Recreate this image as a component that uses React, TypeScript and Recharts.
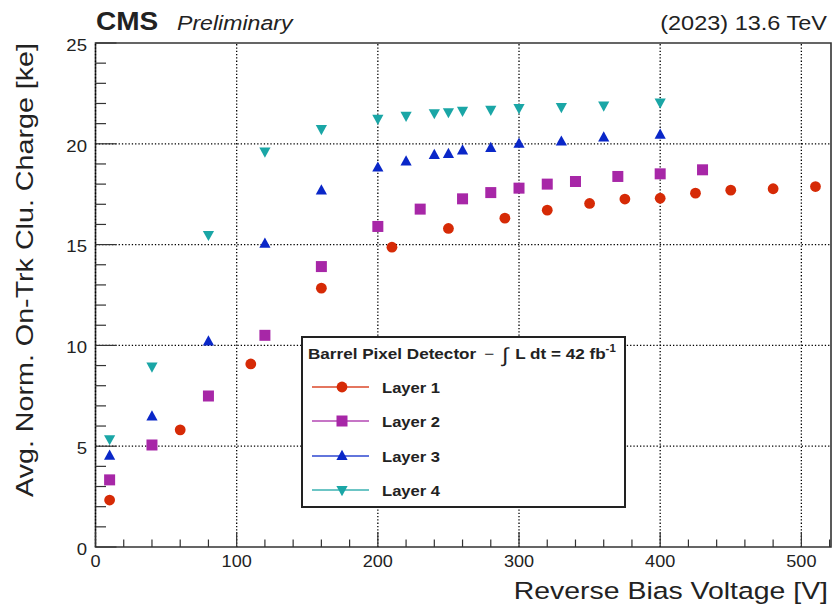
import React from 'react';
import {
  ScatterChart, Scatter, XAxis, YAxis, ReferenceLine, ReferenceArea, Legend, Customized, Label,
} from 'recharts';

// ---- data ----
const VOLTAGE_L1 = [10, 60, 110, 160, 210, 250, 290, 320, 350, 375, 400, 425, 450, 480, 510];
const CHARGE_L1 = [2.33, 5.81, 9.08, 12.84, 14.87, 15.8, 16.31, 16.71, 17.04, 17.26, 17.3, 17.55, 17.7, 17.77, 17.88];

const VOLTAGE_L2 = [10, 40, 80, 120, 160, 200, 230, 260, 280, 300, 320, 340, 370, 400, 430];
const CHARGE_L2 = [3.33, 5.06, 7.49, 10.5, 13.91, 15.9, 16.76, 17.27, 17.58, 17.8, 18.0, 18.13, 18.38, 18.51, 18.71];

const VOLTAGE_L3 = [10, 40, 80, 120, 160, 200, 220, 240, 250, 260, 280, 300, 330, 360, 400];
const CHARGE_L3 = [4.53, 6.47, 10.19, 15.04, 17.68, 18.82, 19.12, 19.45, 19.5, 19.67, 19.79, 20.0, 20.11, 20.31, 20.45];

const VOLTAGE_L4 = [10, 40, 80, 120, 160, 200, 220, 240, 250, 260, 280, 300, 330, 360, 400];
const CHARGE_L4 = [5.35, 8.95, 15.48, 19.62, 20.73, 21.24, 21.39, 21.52, 21.57, 21.64, 21.69, 21.77, 21.82, 21.9, 22.05];

const X_TICKS = [0, 20, 40, 60, 80, 100, 120, 140, 160, 180, 200, 220, 240, 260, 280, 300, 320, 340, 360, 380, 400, 420, 440, 460, 480, 500, 520];
const Y_TICKS = [0, 1, 2, 3, 4, 5, 6, 7, 8, 9, 10, 11, 12, 13, 14, 15, 16, 17, 18, 19, 20, 21, 22, 23, 24, 25];
const X_GRID = [0, 100, 200, 300, 400, 500];
const Y_GRID = [5, 10, 15, 20];
const X_DOMAIN = [0, 521];
const Y_DOMAIN = [0, 25];

const SERIES = [
  { name: 'Layer 1', kind: 'circle', color: '#d62a06', v: VOLTAGE_L1, q: CHARGE_L1 },
  { name: 'Layer 2', kind: 'square', color: '#a727a7', v: VOLTAGE_L2, q: CHARGE_L2 },
  { name: 'Layer 3', kind: 'up', color: '#0a27c8', v: VOLTAGE_L3, q: CHARGE_L3 },
  { name: 'Layer 4', kind: 'down', color: '#1aa6a6', v: VOLTAGE_L4, q: CHARGE_L4 },
];

const FONT = '"Liberation Sans", Arial, Helvetica, sans-serif';
const INK = '#222';

type WTextProps = {
  x: number; y: number; sx?: number; rotate?: number; anchor?: 'start' | 'middle' | 'end';
  size: number; weight?: string; italic?: boolean; fill?: string; children: React.ReactNode;
};
const WText = ({ x, y, sx = 1.15, rotate = 0, anchor = 'start', size, weight = 'normal', italic = false, fill = INK, children }: WTextProps) => (
  <text
    transform={`translate(${x},${y}) rotate(${rotate}) scale(${sx},1)`}
    textAnchor={anchor}
    fontSize={size}
    fontWeight={weight}
    fontStyle={italic ? 'italic' : 'normal'}
    fontFamily={FONT}
    fill={fill}
  >
    {children}
  </text>
);

const Marker = ({ cx, cy, kind, color, s = 1 }: any) => {
  if (cx == null || cy == null) return null;
  if (kind === 'circle') return <circle cx={cx} cy={cy} r={5.4 * s} fill={color} />;
  if (kind === 'square') {
    const h = 5.5 * s;
    return <rect x={cx - h} y={cy - h} width={2 * h} height={2 * h} fill={color} />;
  }
  if (kind === 'up') {
    const pts = `${cx},${cy - 6.2 * s} ${cx - 5.6 * s},${cy + 4 * s} ${cx + 5.6 * s},${cy + 4 * s}`;
    return <polygon points={pts} fill={color} />;
  }
  const pts = `${cx},${cy + 6.2 * s} ${cx - 5.6 * s},${cy - 4 * s} ${cx + 5.6 * s},${cy - 4 * s}`;
  return <polygon points={pts} fill={color} />;
};

const XTick = (props: any) => {
  const { x, y, payload } = props;
  const v = payload.value;
  const major = v % 100 === 0;
  return (
    <g>
      <line x1={x} x2={x} y1={y} y2={y - (major ? 15 : 7.5)} stroke="#333" strokeWidth={1.2} />
      {major && (
        <WText x={x} y={y + 19.5} anchor="middle" size={16} sx={1.13}>{v}</WText>
      )}
    </g>
  );
};

const YTick = (props: any) => {
  const { x, y, payload } = props;
  const v = payload.value;
  const major = v % 5 === 0;
  return (
    <g>
      <line x1={x} x2={x + (major ? 21 : 10.5)} y1={y} y2={y} stroke="#333" strokeWidth={1.2} />
      {major && (
        <WText x={x - 8.5} y={y + 7.8} anchor="end" size={16} sx={1.16}>{v}</WText>
      )}
    </g>
  );
};

const XTitle = (props: any) => {
  const vb = props.viewBox || { x: 95.5, y: 547, width: 735.5, height: 60 };
  return (
    <WText x={vb.x + vb.width - 3} y={vb.y + 52} anchor="end" size={23.3} sx={1.22}>
      Reverse Bias Voltage [V]
    </WText>
  );
};

const YTitle = (props: any) => {
  const vb = props.viewBox || { x: 0, y: 43, width: 95.5, height: 504 };
  return (
    <WText x={vb.x + 33} y={vb.y} rotate={-90} anchor="end" size={23.5} sx={1.22}>
      Avg. Norm. On-Trk Clu. Charge [ke]
    </WText>
  );
};

const Header = () => (
  <g>
    <WText x={96} y={30} size={25} weight="bold" sx={1.12}>CMS</WText>
    <WText x={177} y={30} size={21} italic sx={1.1}>Preliminary</WText>
    <WText x={827} y={30} anchor="end" size={21} sx={1.12}>(2023) 13.6 TeV</WText>
  </g>
);

const LegendBox = (props: any) => {
  const payload: any[] = props.payload || [];
  const rows = SERIES.map((s) => {
    const p = payload.find((e) => e.value === s.name);
    return { ...s, color: (p && p.color) || s.color };
  });
  const rowY = [51, 85, 120, 154];
  return (
    <svg width={325} height={172} style={{ display: 'block' }}>
      <rect x={1} y={1} width={323} height={170} fill="#fff" stroke={INK} strokeWidth={2} />
      <text
        transform="translate(7,23) scale(1.14,1)"
        fontFamily={FONT}
        fontSize={15}
        fontWeight="bold"
        fill={INK}
      >
        Barrel Pixel Detector
        <tspan fontWeight="normal" dx={7}>−</tspan>
        <tspan fontWeight="normal" fontSize={20} dx={7} dy={3}>∫</tspan>
        <tspan dx={6} dy={-3}>L dt = 42 fb</tspan>
        <tspan fontSize={10} dy={-7}>-1</tspan>
      </text>
      {rows.map((r, i) => (
        <g key={r.name}>
          <line x1={11} x2={68} y1={rowY[i]} y2={rowY[i]} stroke={r.color} strokeWidth={1.6} opacity={0.85} />
          <Marker cx={41} cy={rowY[i]} kind={r.kind} color={r.color} />
          <WText x={81} y={rowY[i] + 6} size={15.5} weight="bold" sx={1.07}>{r.name}</WText>
        </g>
      ))}
    </svg>
  );
};

export default function App() {
  return (
    <div style={{ position: 'absolute', left: 0, top: 0, width: 833, height: 607, background: '#fff' }}>
      <ScatterChart width={833} height={607} margin={{ top: 43, right: 2, bottom: 0, left: 0 }}>
        {X_GRID.map((g) => (
          <ReferenceLine key={'gx' + g} x={g} stroke="#000" strokeWidth={1.3} strokeDasharray="1.3 2" />
        ))}
        {Y_GRID.map((g) => (
          <ReferenceLine key={'gy' + g} y={g} stroke="#000" strokeWidth={1.3} strokeDasharray="1.3 2" />
        ))}
        <XAxis
          type="number"
          dataKey="v"
          domain={X_DOMAIN}
          allowDataOverflow
          ticks={X_TICKS}
          interval={0}
          height={60}
          tickSize={0}
          tickMargin={0}
          tickLine={false}
          axisLine={false}
          tick={<XTick />}
        >
          <Label content={<XTitle />} />
        </XAxis>
        <YAxis
          type="number"
          dataKey="q"
          domain={Y_DOMAIN}
          allowDataOverflow
          ticks={Y_TICKS}
          interval={0}
          width={95.5}
          tickSize={0}
          tickMargin={0}
          tickLine={false}
          axisLine={false}
          tick={<YTick />}
        >
          <Label content={<YTitle />} />
        </YAxis>
        <ReferenceArea
          x1={X_DOMAIN[0]}
          x2={X_DOMAIN[1]}
          y1={Y_DOMAIN[0]}
          y2={Y_DOMAIN[1]}
          fill="none"
          fillOpacity={0}
          stroke="#333"
          strokeWidth={1.6}
        />
        {SERIES.map((s) => (
          <Scatter
            key={s.name}
            name={s.name}
            data={s.v.map((v, i) => ({ v, q: s.q[i] }))}
            fill={s.color}
            isAnimationActive={false}
            shape={(p: any) => <Marker cx={p.cx} cy={p.cy} kind={s.kind} color={s.color} />}
          />
        ))}
        <Legend
          layout="vertical"
          align="center"
          verticalAlign="middle"
          content={<LegendBox />}
          wrapperStyle={{ position: 'absolute', left: 301, top: 336, width: 325, height: 172 }}
        />
        <Customized component={<Header />} />
      </ScatterChart>
    </div>
  );
}
